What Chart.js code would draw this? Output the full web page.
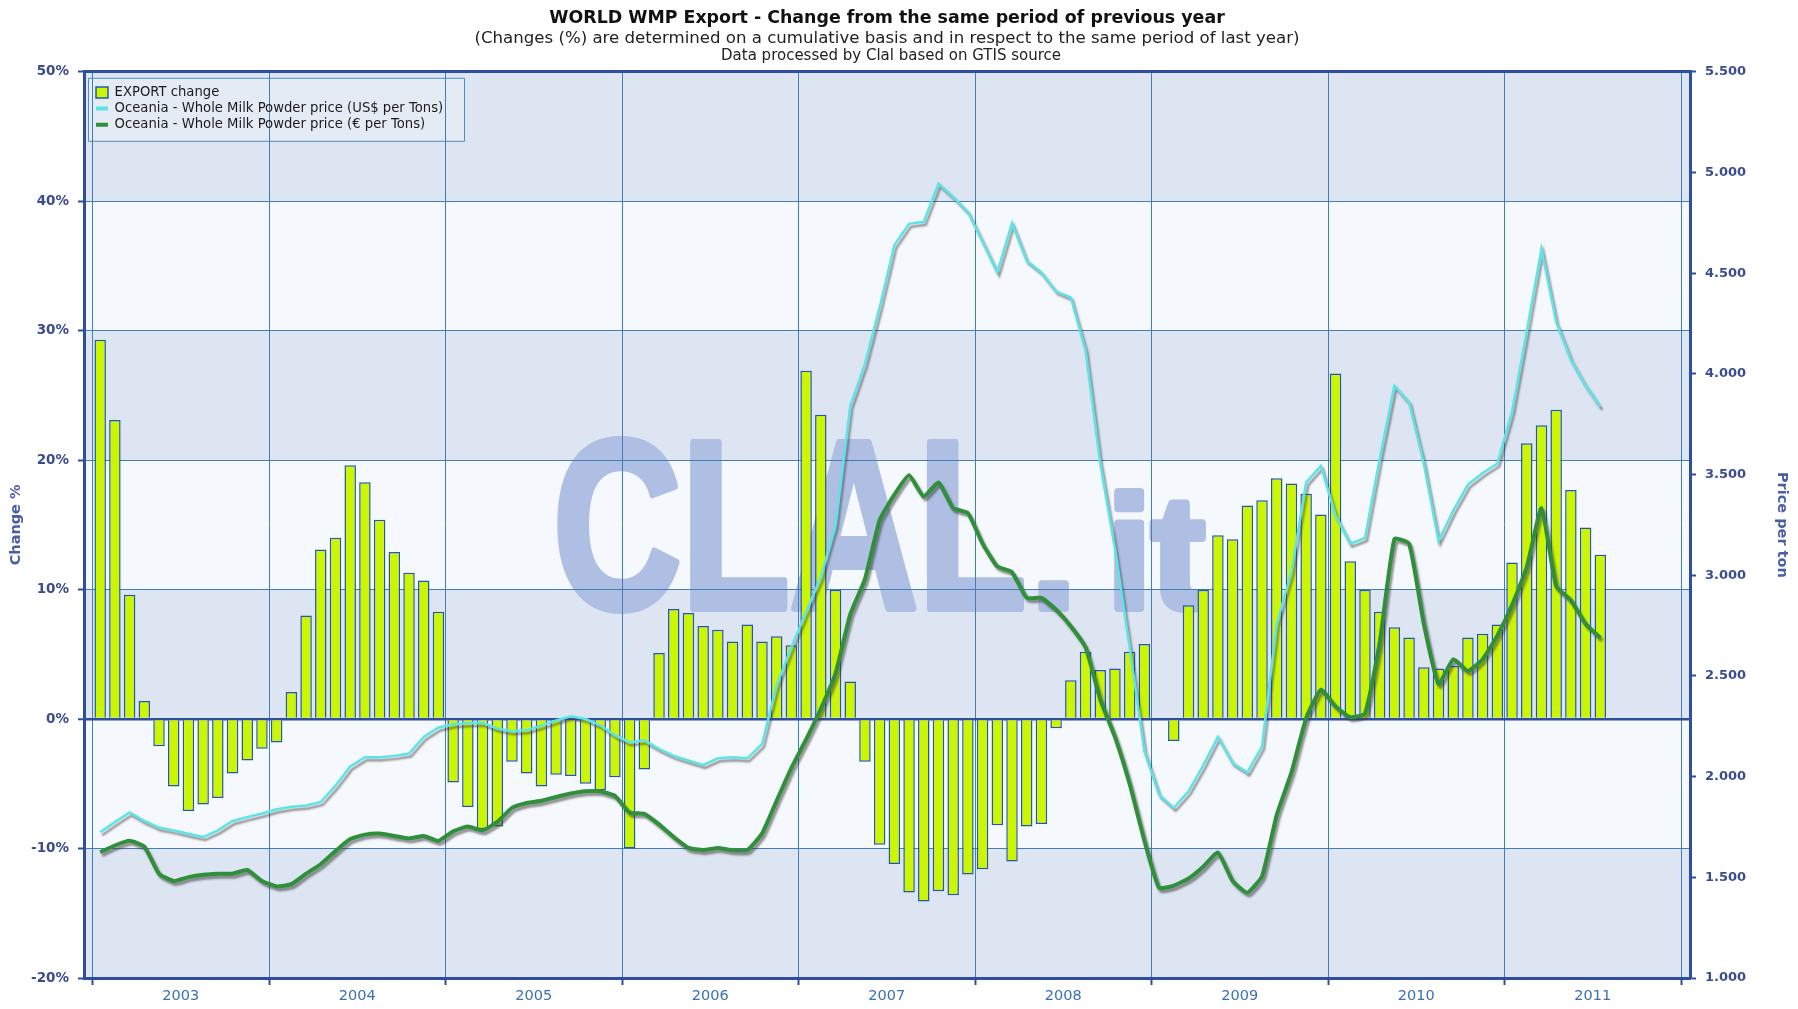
<!DOCTYPE html>
<html>
<head>
<meta charset="utf-8">
<title>WORLD WMP Export - Change from the same period of previous year</title>
<script src="https://cdn.jsdelivr.net/npm/chart.js@4.4.1/dist/chart.umd.min.js"></script>
<style>
  html, body { margin: 0; padding: 0; background: #fff; }
  #wrap { position: relative; width: 1798px; height: 1009px; }
</style>
</head>
<body>
<div id="wrap"><canvas id="chart" width="1798" height="1009"></canvas></div>
<script>
// ---------- DATA ----------
const years = [2003, 2004, 2005, 2006, 2007, 2008, 2009, 2010, 2011];

// monthly, Jan 2003 .. Jul 2011 (% change vs same period of previous year)
const exportChange = [
  29.3, 23.1, 9.6, 1.4, -2.1, -5.2, -7.1, -6.6, -6.1, -4.2, -3.2, -2.3,
  -1.8, 2.1, 8.0, 13.1, 14.0, 19.6, 18.3, 15.4, 12.9, 11.3, 10.7, 8.3,
  -4.9, -6.8, -8.5, -8.3, -3.3, -4.2, -5.2, -4.3, -4.4, -5.0, -5.5, -4.5,
  -10.0, -3.9, 5.1, 8.5, 8.2, 7.2, 6.9, 6.0, 7.3, 6.0, 6.4, 5.7,
  26.9, 23.5, 10.0, 2.9, -3.3, -9.7, -11.2, -13.4, -14.1, -13.3, -13.6, -12.0,
  -11.6, -8.2, -11.0, -8.3, -8.1, -0.7, 3.0, 5.2, 3.8, 3.9, 5.2, 5.8,
  null, -1.7, 8.8, 10.0, 14.2, 13.9, 16.5, 16.9, 18.6, 18.2, 17.4, 15.8,
  26.7, 12.2, 10.0, 8.3, 7.1, 6.3, 4.0, 3.9, 4.1, 6.3, 6.6, 7.3,
  12.1, 21.3, 22.7, 23.9, 17.7, 14.8, 12.7
];

// Oceania WMP price, US$ per ton
const priceUsd = [
  1724, 1775, 1822, 1780, 1747, 1733, 1716, 1700, 1733, 1780, 1799, 1817,
  1838, 1850, 1857, 1874, 1955, 2050, 2096, 2096, 2103, 2115, 2197, 2244,
  2260, 2265, 2267, 2239, 2225, 2232, 2253, 2279, 2300, 2286, 2255, 2205,
  2170, 2180, 2138, 2103, 2080, 2058, 2091, 2096, 2091, 2161, 2454, 2642,
  2817, 2990, 3250, 3840, 4050, 4330, 4640, 4745, 4755, 4945, 4879, 4805,
  4656, 4504, 4749, 4562, 4504, 4410, 4380, 4117, 3555, 3133, 2641, 2126,
  1910, 1845, 1927, 2056, 2197, 2068, 2021, 2150, 2759, 3016, 3461, 3543,
  3297, 3157, 3185, 3578, 3941, 3859, 3555, 3170, 3321, 3450, 3508, 3555,
  3813, 4211, 4620, 4258, 4070, 3942, 3836
];

// Oceania WMP price, EUR per ton
const priceEur = [
  1625, 1658, 1681, 1653, 1518, 1482, 1501, 1513, 1518, 1518, 1536, 1482,
  1455, 1466, 1518, 1565, 1630, 1690, 1712, 1717, 1705, 1693, 1705, 1681,
  1728, 1752, 1733, 1775, 1845, 1869, 1880, 1899, 1916, 1927, 1927, 1904,
  1822, 1815, 1763, 1700, 1646, 1635, 1646, 1635, 1635, 1717, 1881, 2044,
  2185, 2337, 2513, 2806, 2981, 3274, 3400, 3496, 3391, 3461, 3333, 3309,
  3157, 3044, 3016, 2888, 2888, 2829, 2747, 2642, 2384, 2197, 1963, 1682,
  1448, 1459, 1494, 1553, 1623, 1482, 1424, 1506, 1810, 2021, 2290, 2431,
  2349, 2295, 2314, 2665, 3180, 3157, 2759, 2460, 2583, 2525, 2583, 2700,
  2852, 3040, 3333, 2946, 2876, 2759, 2689
];

// ---------- STYLE ----------
const FONT = '"DejaVu Sans", Verdana, sans-serif';
const axisBlue = "#2f4f9e";
const gridBlue = "#3f7fb6";
const labelBlue = "#3b4b90";
const yearBlue = "#3a70b5";
const bandBlue = "#dce5f1";
const bandLight = "#f5f8fc";
const barFill = "#ccf500";
const barEdge = "#1f58b0";
const usdColor = "#5ce4e8";
const eurColor = "#2f8f3a";
const markColor = "#aebfe3";

const monthPoints = (arr) => arr.map((v, i) => ({ x: i + 0.5, y: v }));
const dotThousands = (v) => String(v).replace(/\B(?=(\d{3})+(?!\d))/g, ".");

// ---------- PLUGINS ----------
// plot background bands, CLAL watermark and legend frame
const backdrop = {
  id: "backdrop",
  beforeDraw(chart) {
    const { ctx, chartArea: a, scales: { y } } = chart;
    ctx.save();
    let k = 0;
    for (let v = y.max; v > y.min; v -= 10, k++) {
      const top = y.getPixelForValue(v);
      const bot = y.getPixelForValue(v - 10);
      ctx.fillStyle = k % 2 === 0 ? bandBlue : bandLight;
      ctx.fillRect(a.left, top, a.width, bot - top);
    }

    // watermark
    const base = a.top + a.height * 0.592;
    ctx.fillStyle = markColor;
    ctx.strokeStyle = markColor;
    ctx.lineJoin = "round";
    ctx.textBaseline = "alphabetic";
    ctx.save();
    ctx.translate(a.left + a.width * 0.292, base);
    ctx.scale(0.74, 1);
    ctx.font = 'bold 240px "Liberation Sans", Arial, sans-serif';
    ctx.lineWidth = 8;
    ctx.strokeText("CLAL", 0, 0);
    ctx.fillText("CLAL", 0, 0);
    ctx.restore();
    ctx.save();
    ctx.font = 'bold 160px "Liberation Sans", Arial, sans-serif';
    ctx.lineWidth = 8;
    const dx = a.left + a.width * 0.59;
    const ix = a.left + a.width * 0.637;
    ctx.strokeText(".", dx, base);
    ctx.fillText(".", dx, base);
    ctx.strokeText("it", ix, base);
    ctx.fillText("it", ix, base);
    ctx.restore();

    // legend frame
    ctx.fillStyle = "rgba(255,255,255,0.25)";
    ctx.strokeStyle = "#4a8fc0";
    ctx.lineWidth = 1;
    ctx.fillRect(a.left + 4, a.top + 6, 376, 63);
    ctx.strokeRect(a.left + 4.5, a.top + 6.5, 376, 63);
    ctx.restore();
  },
  afterLayout(chart) {
    // put the legend in the top-left corner of the plot
    const lg = chart.legend;
    const a = chart.chartArea;
    lg.left = a.left + 9;
    lg.top = a.top + 11;
    lg.width = 390;
    lg.height = 62;
    lg.right = lg.left + lg.width;
    lg.bottom = lg.top + lg.height;
  },
  afterDraw(chart) {
    const { ctx, chartArea: a } = chart;
    ctx.save();
    ctx.font = "15px " + FONT;
    ctx.fillStyle = "#222";
    ctx.textAlign = "center";
    ctx.textBaseline = "middle";
    ctx.fillText("Data processed by Clal based on GTIS source", (a.left + a.right) / 2 + 4, 56);
    ctx.restore();
  }
};

// soft grey shadow under the price lines
const lineShadow = {
  id: "lineShadow",
  beforeDatasetDraw(chart, args) {
    if (args.meta.type !== "line") return;
    const ctx = chart.ctx;
    ctx.save();
    ctx.shadowColor = "rgba(60,60,60,0.55)";
    ctx.shadowBlur = 2;
    ctx.shadowOffsetX = 2;
    ctx.shadowOffsetY = 3;
  },
  afterDatasetDraw(chart, args) {
    if (args.meta.type !== "line") return;
    chart.ctx.restore();
  }
};

// ---------- CHART ----------
const ctx = document.getElementById("chart").getContext("2d");

new Chart(ctx, {
  type: "bar",
  data: {
    datasets: [
      {
        type: "bar",
        label: "EXPORT change",
        data: monthPoints(exportChange),
        backgroundColor: barFill,
        borderColor: barEdge,
        borderWidth: 1.5,
        barPercentage: 0.78,
        categoryPercentage: 1,
        xAxisID: "x",
        yAxisID: "y",
        order: 3
      },
      {
        type: "line",
        label: "Oceania - Whole Milk Powder price (US$ per Tons)",
        data: monthPoints(priceUsd),
        borderColor: usdColor,
        borderWidth: 2.5,
        pointRadius: 0,
        tension: 0,
        xAxisID: "x",
        yAxisID: "y1",
        order: 1
      },
      {
        type: "line",
        label: "Oceania - Whole Milk Powder price (€ per Tons)",
        data: monthPoints(priceEur),
        borderColor: eurColor,
        borderWidth: 4,
        pointRadius: 0,
        tension: 0.15,
        xAxisID: "x",
        yAxisID: "y1",
        order: 2
      }
    ]
  },
  options: {
    responsive: false,
    animation: false,
    events: [],
    layout: { padding: 0 },
    plugins: {
      title: {
        display: true,
        fullSize: false,
        text: "WORLD WMP Export - Change from the same period of previous year",
        color: "#111",
        font: { family: FONT, size: 17.4, weight: "bold" },
        padding: { top: 8, bottom: 0 }
      },
      subtitle: {
        display: true,
        fullSize: false,
        text: "(Changes (%) are determined on a cumulative basis and in respect to the same period of last year)",
        color: "#222",
        font: { family: FONT, size: 16.6 },
        padding: { top: 0, bottom: 23 }
      },
      legend: {
        position: "chartArea",
        align: "start",
        labels: {
          usePointStyle: true,
          pointStyleWidth: 12,
          boxHeight: 11,
          padding: 3,
          color: "#1b1b1b",
          font: { family: FONT, size: 13.2 },
          generateLabels: (chart) =>
            chart.data.datasets.map((ds, i) => ({
              text: ds.label,
              fillStyle: ds.type === "bar" ? barFill : ds.borderColor,
              strokeStyle: ds.type === "bar" ? barEdge : ds.borderColor,
              lineWidth: ds.type === "bar" ? 1.5 : 4,
              pointStyle: ds.type === "bar" ? "rect" : "line",
              fontColor: "#1b1b1b",
              hidden: false,
              datasetIndex: i
            }))
        }
      },
      tooltip: { enabled: false }
    },
    scales: {
      x: {
        type: "linear",
        min: -0.6,
        max: years.length * 12 + 0.6,
        offset: false,
        afterBuildTicks: (s) => {
          s.ticks = years.map((y, i) => ({ value: i * 12 })).concat([{ value: years.length * 12 }]);
        },
        afterFit: (s) => { s.height = 31; },
        grid: { offset: false, color: gridBlue, lineWidth: 1, tickColor: axisBlue, tickWidth: 2, tickLength: 7 },
        border: { color: axisBlue, width: 3 },
        ticks: {
          autoSkip: false,
          maxRotation: 0,
          labelOffset: 88,
          padding: 3,
          color: yearBlue,
          font: { family: FONT, size: 14.5 },
          callback: (v) => (v < years.length * 12 ? String(years[v / 12]) : "")
        }
      },
      y: {
        position: "left",
        min: -20,
        max: 50,
        afterFit: (s) => { s.width = 84; },
        ticks: {
          stepSize: 10,
          padding: 9,
          color: labelBlue,
          font: { family: FONT, size: 13.5, weight: "bold" },
          callback: (v) => v + "%"
        },
        grid: {
          color: (c) => (c.tick && (c.tick.value === 0 || c.tick.value === 50) ? axisBlue : gridBlue),
          lineWidth: (c) => (c.tick && c.tick.value === 50 ? 3 : c.tick && c.tick.value === 0 ? 2.5 : 1),
          tickColor: axisBlue,
          tickWidth: 2,
          tickLength: 6
        },
        border: { color: axisBlue, width: 3 },
        title: {
          display: true,
          text: "Change %",
          color: "#4a5ea8",
          font: { family: FONT, size: 14.5, weight: "bold" },
          padding: { top: 8, bottom: 0 }
        }
      },
      y1: {
        position: "right",
        min: 1000,
        max: 5500,
        afterFit: (s) => { s.width = 108; },
        ticks: {
          stepSize: 500,
          padding: 9,
          color: labelBlue,
          font: { family: FONT, size: 13, weight: "bold" },
          callback: (v) => dotThousands(v)
        },
        grid: { drawOnChartArea: false, tickColor: axisBlue, tickWidth: 2, tickLength: 6 },
        border: { color: axisBlue, width: 3 },
        title: {
          display: true,
          text: "Price per ton",
          color: "#4a5ea8",
          font: { family: FONT, size: 14.5, weight: "bold" },
          padding: { top: 8, bottom: 0 }
        }
      }
    }
  },
  plugins: [backdrop, lineShadow]
});
</script>
</body>
</html>
